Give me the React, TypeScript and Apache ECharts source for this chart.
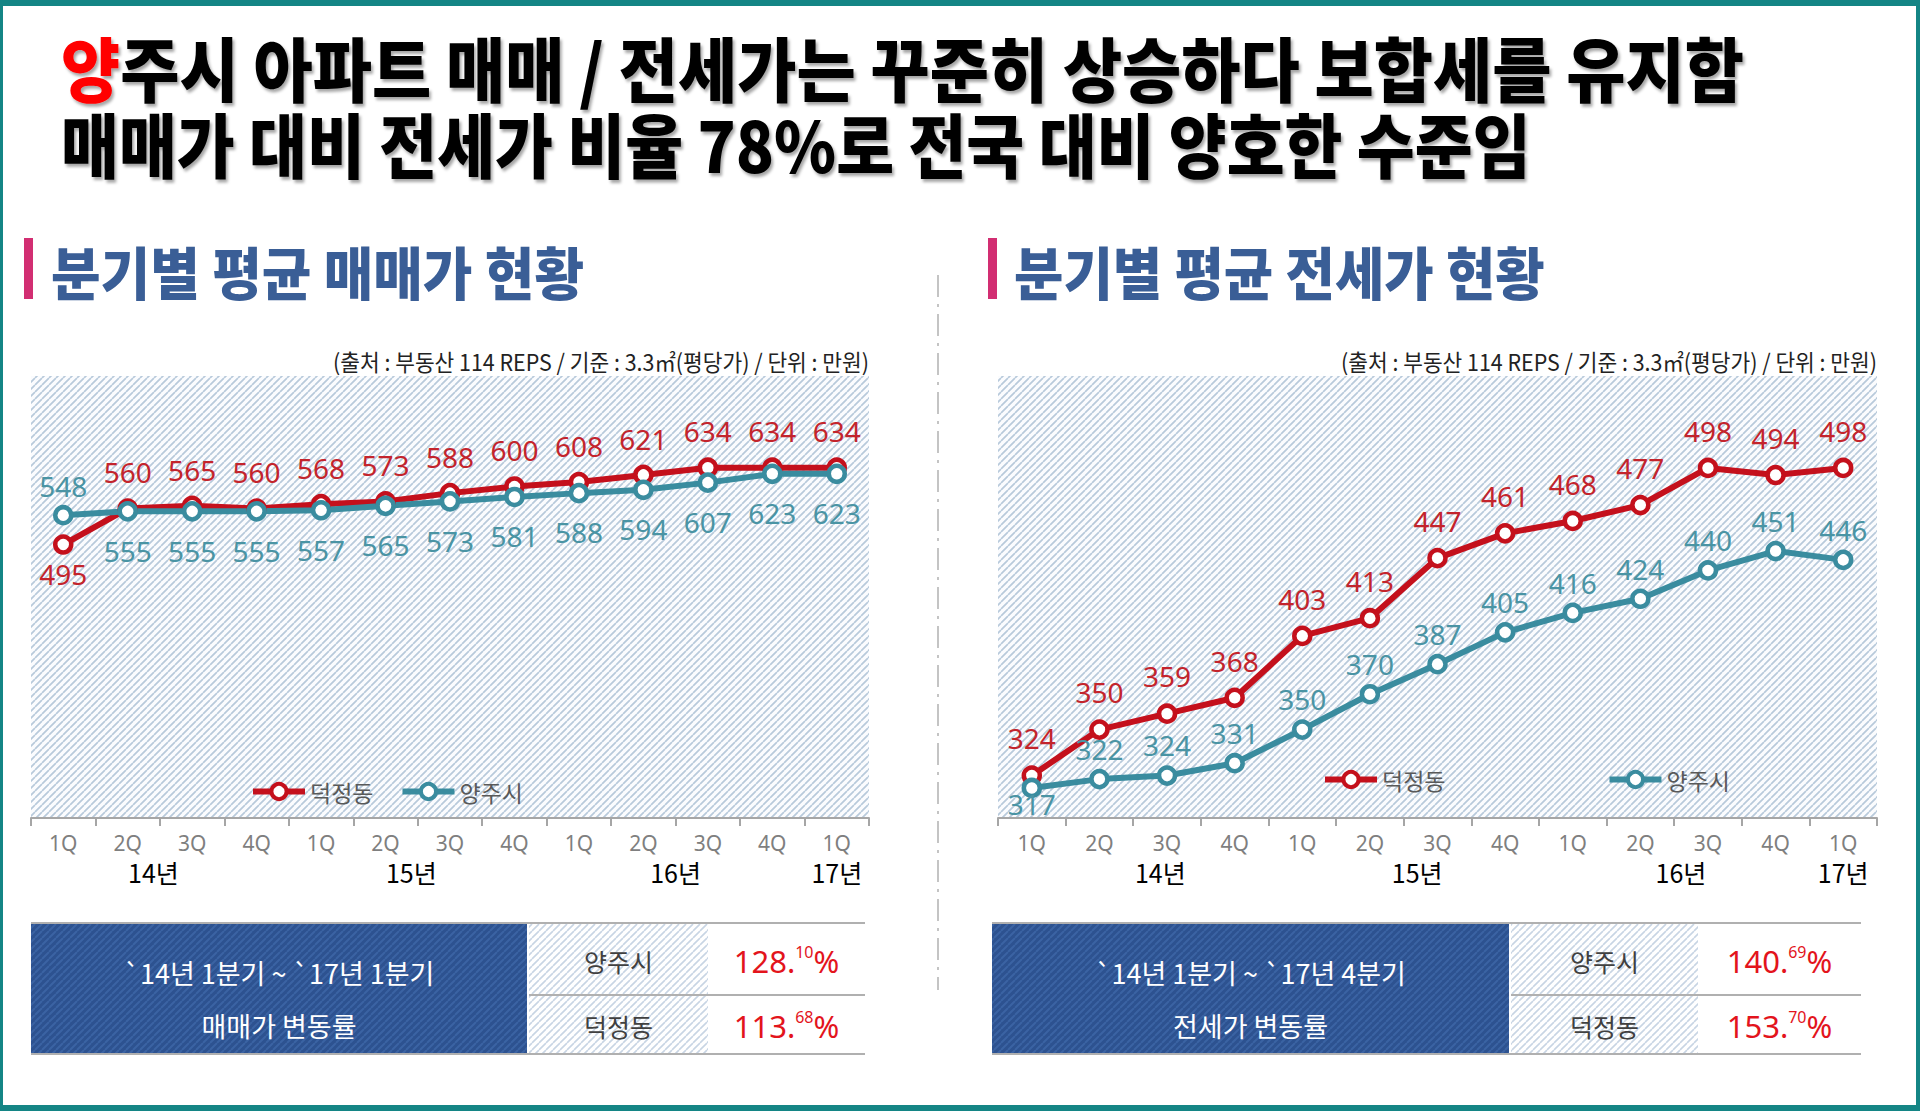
import React, { useEffect, useRef } from 'react';
import * as echarts from 'echarts';

// ---------- data ----------
const quarterLabels = ['1Q', '2Q', '3Q', '4Q', '1Q', '2Q', '3Q', '4Q', '1Q', '2Q', '3Q', '4Q', '1Q'];
const yearLabels = ['14년', '15년', '16년', '17년'];
const saleYearPos = [1.4, 5.4, 9.5, 12];
const jeonseYearPos = [1.9, 5.7, 9.6, 12];
const seriesNames = ['덕정동', '양주시'];

const saleDeokjeong = [495, 560, 565, 560, 568, 573, 588, 600, 608, 621, 634, 634, 634];
const saleYangju = [548, 555, 555, 555, 557, 565, 573, 581, 588, 594, 607, 623, 623];
const jeonseDeokjeong = [324, 350, 359, 368, 403, 413, 447, 461, 468, 477, 498, 494, 498];
const jeonseYangju = [317, 322, 324, 331, 350, 370, 387, 405, 416, 424, 440, 451, 446];

const titleLine1Head = '양';
const titleLine1Rest = '주시 아파트 매매 / 전세가는 꾸준히 상승하다 보합세를 유지함';
const titleLine2 = '매매가 대비 전세가 비율 78%로 전국 대비 양호한 수준임';
const headings = ['분기별 평균 매매가 현황', '분기별 평균 전세가 현황'];
const sourceNote = '(출처 : 부동산 114 REPS / 기준 : 3.3㎡(평당가) / 단위 : 만원)';

const tableRowNames = ['양주시', '덕정동'];
const saleTableTitle = ['`14년 1분기 ~ `17년 1분기', '매매가 변동률'];
const jeonseTableTitle = ['`14년 1분기 ~ `17년 4분기', '전세가 변동률'];
const saleRates = ['128.10', '113.68'];
const jeonseRates = ['140.69', '153.70'];

// ---------- styles ----------
const KR = '"Noto Sans CJK KR", "Noto Sans", sans-serif';
const NARROW = '"Liberation Sans Narrow", "Noto Sans", sans-serif';
const RED = '#c4101c';
const TEAL = '#3a8c9f';
const RED_LABEL = '#c3242c';
const TEAL_LABEL = '#4a94a4';
const FRAME = '#148585';
const HEAD_BLUE = '#3a5e96';
const PINK = '#d22e72';

function makeHatch(bg: string, line: string, size: number, lw: number) {
  const c = document.createElement('canvas');
  c.width = size;
  c.height = size;
  const g = c.getContext('2d') as CanvasRenderingContext2D;
  g.fillStyle = bg;
  g.fillRect(0, 0, size, size);
  g.strokeStyle = line;
  g.lineWidth = lw;
  g.beginPath();
  for (const k of [-size, 0, size]) {
    g.moveTo(k, size);
    g.lineTo(k + size, 0);
  }
  g.stroke();
  return { image: c, repeat: 'repeat', imageWidth: size, imageHeight: size } as any;
}

function measure(text: string, size: number, weight: string | number, family: string) {
  const c = document.createElement('canvas');
  const ctx = c.getContext('2d') as CanvasRenderingContext2D;
  ctx.font = `${weight} ${size}px ${family}`;
  return ctx.measureText(text).width;
}

export default function App() {
  const ref = useRef<HTMLDivElement>(null);

  useEffect(() => {
    if (!ref.current) return;
    const chart = echarts.init(ref.current, undefined, { renderer: 'svg' });

    const plotHatch = makeHatch('#fbfcfe', '#b8cadb', 7, 1.7);
    const darkHatch = makeHatch('#2d5290', '#3b63a3', 7, 2);
    const lightHatch = makeHatch('#ffffff', '#c8d5e4', 7, 1.6);

    const place = (pos: string, d: number) => ({ position: pos, distance: d });

    const mkSeries = (
      name: string,
      data: number[],
      xIdx: number,
      yIdx: number,
      color: string,
      labelColor: string,
      placeFn: (i: number) => any
    ) => ({
      type: 'line',
      name,
      xAxisIndex: xIdx,
      yAxisIndex: yIdx,
      data: data.map((v, i) => ({ value: v, label: placeFn(i) })),
      symbol: 'circle',
      symbolSize: 16,
      showAllSymbol: true,
      lineStyle: { color, width: 6 },
      itemStyle: { color: '#ffffff', borderColor: color, borderWidth: 4.5 },
      label: { show: true, color: labelColor, fontSize: 28, fontFamily: NARROW },
      emphasis: { disabled: true },
    });

    const catAxis = (gridIndex: number) => ({
      type: 'category',
      gridIndex,
      data: quarterLabels,
      boundaryGap: true,
      axisLine: { show: true, onZero: false, lineStyle: { color: '#a6a6a6', width: 2 } },
      axisTick: { show: true, interval: 0, length: 8, lineStyle: { color: '#a6a6a6', width: 2 } },
      axisLabel: { interval: 0, margin: 14, color: '#7f7f7f', fontSize: 21, fontFamily: NARROW },
      splitLine: { show: false },
    });

    const yearAxis = (gridIndex: number, pos: number[]) => ({
      type: 'value',
      gridIndex,
      min: -0.5,
      max: quarterLabels.length - 0.5,
      position: 'bottom',
      axisLine: { show: false, onZero: false },
      axisTick: { show: false },
      splitLine: { show: false },
      axisLabel: {
        customValues: pos,
        margin: 41,
        color: '#000',
        fontSize: 25,
        fontFamily: KR,
        formatter: (v: number) => {
          const k = pos.findIndex((p) => Math.abs(p - v) < 1e-6);
          return k >= 0 ? yearLabels[k] : '';
        },
      },
    });

    // title scaling
    const tSize = 70;
    const line1Full = titleLine1Head + titleLine1Rest;
    const s1 = 1684 / measure(line1Full, tSize, 900, KR);
    const s2 = 1470 / measure(titleLine2, tSize, 900, KR);
    const hSize = 57;
    const hs0 = 533 / measure(headings[0], hSize, 900, KR);
    const hs1 = 531 / measure(headings[1], hSize, 900, KR);
    const nSize = 23;
    const ns = 536 / measure(sourceNote, nSize, 'normal', KR);

    const titleStyle = {
      fill: '#000',
      fontSize: tSize,
      fontWeight: 900,
      fontFamily: KR,
      verticalAlign: 'middle',
      align: 'left',
      textShadowColor: 'rgba(0,0,0,0.35)',
      textShadowBlur: 3,
      textShadowOffsetX: 2,
      textShadowOffsetY: 3,
    };

    const graphics: any[] = [
      // frame
      { type: 'rect', shape: { x: 0, y: 0, width: 1920, height: 6 }, style: { fill: FRAME } },
      { type: 'rect', shape: { x: 0, y: 0, width: 3, height: 1111 }, style: { fill: FRAME } },
      { type: 'rect', shape: { x: 1916, y: 0, width: 4, height: 1111 }, style: { fill: FRAME } },
      { type: 'rect', shape: { x: 0, y: 1105, width: 1920, height: 6 }, style: { fill: FRAME } },
      // title
      {
        type: 'text',
        x: 61,
        y: 66,
        scaleX: s1,
        style: {
          ...titleStyle,
          text: `{r|${titleLine1Head}}{k|${titleLine1Rest}}`,
          rich: {
            r: { fill: '#ff0000', fontSize: tSize, fontWeight: 900, fontFamily: KR },
            k: { fill: '#000', fontSize: tSize, fontWeight: 900, fontFamily: KR },
          },
        },
      },
      { type: 'text', x: 61, y: 143, scaleX: s2, style: { ...titleStyle, text: titleLine2 } },
      // headings
      { type: 'rect', shape: { x: 24, y: 238, width: 9, height: 61 }, style: { fill: PINK } },
      { type: 'rect', shape: { x: 988, y: 238, width: 9, height: 61 }, style: { fill: PINK } },
      {
        type: 'text', x: 51, y: 270, scaleX: hs0,
        style: { text: headings[0], fill: HEAD_BLUE, fontSize: hSize, fontWeight: 900, fontFamily: KR, verticalAlign: 'middle' },
      },
      {
        type: 'text', x: 1014, y: 270, scaleX: hs1,
        style: { text: headings[1], fill: HEAD_BLUE, fontSize: hSize, fontWeight: 900, fontFamily: KR, verticalAlign: 'middle' },
      },
      // separator
      {
        type: 'line',
        shape: { x1: 938, y1: 275, x2: 938, y2: 990 },
        style: { stroke: '#c4c4c4', lineWidth: 2, lineDash: [22, 7, 3, 7] },
      },
      // source notes
      {
        type: 'text', x: 869, y: 361, scaleX: ns,
        style: { text: sourceNote, fill: '#222', fontSize: nSize, fontFamily: KR, align: 'right', verticalAlign: 'middle' },
      },
      {
        type: 'text', x: 1877, y: 361, scaleX: ns,
        style: { text: sourceNote, fill: '#222', fontSize: nSize, fontFamily: KR, align: 'right', verticalAlign: 'middle' },
      },
    ];

    const addTable = (
      x0: number, darkW: number, midX: number, midW: number, rightEnd: number,
      titleLines: string[], rates: string[]
    ) => {
      const top = 923, mid = 995, bottom = 1054;
      graphics.push(
        { type: 'rect', shape: { x: x0, y: top, width: darkW, height: bottom - top }, style: { fill: darkHatch } },
        { type: 'rect', shape: { x: midX, y: top, width: midW, height: bottom - top }, style: { fill: lightHatch } },
        { type: 'line', shape: { x1: x0, y1: top, x2: rightEnd, y2: top }, style: { stroke: '#b0b0b0', lineWidth: 2 } },
        { type: 'line', shape: { x1: midX, y1: mid, x2: rightEnd, y2: mid }, style: { stroke: '#b0b0b0', lineWidth: 2 } },
        { type: 'line', shape: { x1: x0, y1: bottom, x2: rightEnd, y2: bottom }, style: { stroke: '#b0b0b0', lineWidth: 2 } }
      );
      const cx = x0 + darkW / 2;
      graphics.push(
        { type: 'text', x: cx, y: 972, style: { text: titleLines[0], fill: '#fff', fontSize: 27, fontFamily: KR, align: 'center', verticalAlign: 'middle' } },
        { type: 'text', x: cx, y: 1025, style: { text: titleLines[1], fill: '#fff', fontSize: 27, fontFamily: KR, align: 'center', verticalAlign: 'middle' } }
      );
      const mx = midX + midW / 2;
      const rx = (midX + midW + rightEnd) / 2;
      const rowY = [961, 1026];
      tableRowNames.forEach((nm, i) => {
        graphics.push({
          type: 'text', x: mx, y: rowY[i],
          style: { text: nm, fill: '#404040', fontSize: 25, fontFamily: KR, align: 'center', verticalAlign: 'middle' },
        });
        const [ip, fp] = rates[i].split('.');
        graphics.push({
          type: 'text', x: rx, y: rowY[i],
          style: {
            text: `{n|${ip}.}{s|${fp}}{n|%}`,
            align: 'center',
            verticalAlign: 'middle',
            rich: {
              n: { fill: '#e3141c', fontSize: 31, fontFamily: NARROW, lineHeight: 34 },
              s: { fill: '#e3141c', fontSize: 16, fontFamily: NARROW, verticalAlign: 'top' },
            },
          },
        });
      });
    };
    addTable(31, 496, 529, 179, 865, saleTableTitle, saleRates);
    addTable(992, 517, 1511, 187, 1861, jeonseTableTitle, jeonseRates);

    const option: any = {
      animation: false,
      textStyle: { fontFamily: KR },
      grid: [
        { left: 31, top: 376, width: 838, height: 442, show: true, backgroundColor: plotHatch, borderWidth: 0, outerBoundsMode: 'none' },
        { left: 998, top: 376, width: 879, height: 442, show: true, backgroundColor: plotHatch, borderWidth: 0, outerBoundsMode: 'none' },
      ],
      xAxis: [catAxis(0), yearAxis(0, saleYearPos), catAxis(1), yearAxis(1, jeonseYearPos)],
      yAxis: [
        { type: 'value', gridIndex: 0, min: 0, max: 800, show: false, splitLine: { show: false } },
        { type: 'value', gridIndex: 1, min: 300, max: 550, show: false, splitLine: { show: false } },
      ],
      legend: [
        {
          left: 250, top: 780, padding: 0, itemGap: 26, itemWidth: 52, itemHeight: 19,
          data: seriesNames,
          textStyle: { fontSize: 23, color: '#595959', fontFamily: KR },
          lineStyle: { width: 6 },
          itemStyle: { borderWidth: 4 },
        },
        {
          left: 1322, top: 768, padding: 0, itemGap: 161, itemWidth: 52, itemHeight: 19,
          data: seriesNames,
          textStyle: { fontSize: 23, color: '#595959', fontFamily: KR },
          lineStyle: { width: 6 },
          itemStyle: { borderWidth: 4 },
        },
      ],
      series: [
        mkSeries(seriesNames[0], saleDeokjeong, 0, 0, RED, RED_LABEL, (i) =>
          saleDeokjeong[i] < saleYangju[i] ? place('bottom', 5) : place('top', 12)
        ),
        mkSeries(seriesNames[1], saleYangju, 0, 0, TEAL, TEAL_LABEL, (i) =>
          saleYangju[i] > saleDeokjeong[i] ? place('top', 5) : place('bottom', 15)
        ),
        mkSeries(seriesNames[0], jeonseDeokjeong, 2, 1, RED, RED_LABEL, () => place('top', 13)),
        mkSeries(seriesNames[1], jeonseYangju, 2, 1, TEAL, TEAL_LABEL, (i) =>
          Math.abs(jeonseDeokjeong[i] - jeonseYangju[i]) < 15 ? place('bottom', -8) : place('top', 6)
        ),
      ],
      graphic: { elements: graphics },
    };

    chart.setOption(option);
    return () => chart.dispose();
  }, []);

  return (
    <div
      ref={ref}
      style={{ position: 'absolute', left: 0, top: 0, width: 1920, height: 1111, background: '#fff' }}
    />
  );
}
